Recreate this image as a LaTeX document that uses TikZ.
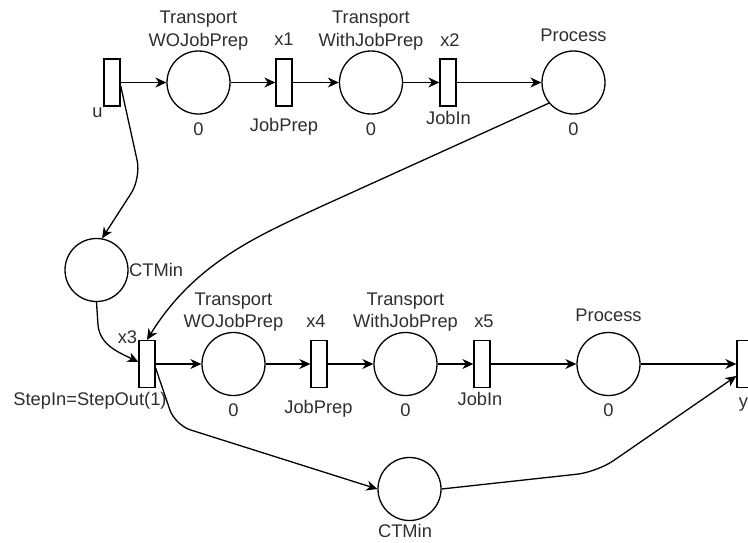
\documentclass[tikz,border=0pt]{standalone}
\usepackage{fontspec}
\setmainfont{Liberation Sans}
\usetikzlibrary{arrows.meta}
\tikzset{
  place/.style={circle, draw=black, line width=1.3pt, minimum size=63pt, inner sep=0pt},
  trans/.style={rectangle, draw=black, line width=1.3pt, minimum width=16pt, minimum height=47pt, inner sep=0pt},
  lbl/.style={anchor=base, inner sep=0pt, text=black!82, font=\fontsize{18.3}{22}\selectfont},
  arc/.style={draw=black, line width=1.3pt, -{Stealth[length=11pt,width=10pt,inset=3.5pt]}},
}
\begin{document}
\begin{tikzpicture}[x=1pt,y=-1pt]
\clip (0,0) rectangle (748,542);
% top row
\node[trans] (u) at (112,82.5) {};
\node[place] (P1) at (198.5,82.5) {};
\node[trans] (x1) at (284,82.5) {};
\node[place] (P2) at (371,82.5) {};
\node[trans] (x2) at (448,82.5) {};
\node[place] (P3) at (573.5,82.5) {};
\node[place] (C1) at (96.5,270) {};
% bottom row
\node[trans] (x3) at (147,364) {};
\node[place] (P4) at (233.5,364) {};
\node[trans] (x4) at (319,364) {};
\node[place] (P5) at (405.5,364) {};
\node[trans] (x5) at (482,364) {};
\node[place] (P6) at (608.5,364) {};
\node[trans] (y) at (745,364) {};
\node[place] (C2) at (409.5,489) {};
% labels top
\node[lbl] (lu) at (97.5,117) {u};
\node[lbl] (l1a) at (198.5,23.3) {Transport};
\node[lbl] (l1b) at (198.5,46) {WOJobPrep};
\node[lbl] (l1c) at (198.5,135) {0};
\node[lbl] (lx1) at (284,45) {x1};
\node[lbl] (lx1b) at (284,131) {JobPrep};
\node[lbl] (l2a) at (371,23.3) {Transport};
\node[lbl] (l2b) at (371,46) {WithJobPrep};
\node[lbl] (l2c) at (371,135) {0};
\node[lbl] (lx2) at (450,46) {x2};
\node[lbl] (lx2b) at (448.5,124) {JobIn};
\node[lbl] (l3a) at (573.5,41) {Process};
\node[lbl] (l3c) at (573.5,135) {0};
\node[lbl, anchor=base west] (lc1) at (129,276) {CTMin};
% labels bottom
\node[lbl] (lx3) at (127.5,343) {x3};
\node[lbl] (lx3b) at (90,405) {StepIn=StepOut(1)};
\node[lbl] (l4a) at (233.5,305) {Transport};
\node[lbl] (l4b) at (233.5,327) {WOJobPrep};
\node[lbl] (l4c) at (233.5,416) {0};
\node[lbl] (lx4) at (316,327) {x4};
\node[lbl] (lx4b) at (318.5,413) {JobPrep};
\node[lbl] (l5a) at (405.5,305) {Transport};
\node[lbl] (l5b) at (405.5,327) {WithJobPrep};
\node[lbl] (l5c) at (405.5,416) {0};
\node[lbl] (lx5) at (484,327) {x5};
\node[lbl] (lx5b) at (480,405) {JobIn};
\node[lbl] (l6a) at (608.5,321) {Process};
\node[lbl] (l6c) at (608.5,416) {0};
\node[lbl] (ly) at (743.5,407) {y};
\node[lbl] (lc2) at (405,537) {CTMin};
% connectors top
\draw[arc] (u) -- (P1);
\draw[arc] (P1) -- (x1);
\draw[arc] (x1) -- (P2);
\draw[arc] (P2) -- (x2);
\draw[arc] (x2) -- (P3);
\draw[arc, rounded corners=18pt] ([yshift=-3pt]u.east) -- (141,178) -- (C1.80);
\draw[arc] (C1.south) -- (98,325) .. controls (100,345) and (118,352) .. ([yshift=2pt]x3.west);
\draw[arc] (P3.220) -- (320,207) .. controls (260,235) and (195,262) .. (x3.north);
% connectors bottom
\draw[arc] (x3) -- (P4);
\draw[arc] (P4) -- (x4);
\draw[arc] (x4) -- (P5);
\draw[arc] (P5) -- (x5);
\draw[arc] (x5) -- (P6);
\draw[arc] (P6) -- (y);
\draw[arc, rounded corners=16pt] ([yshift=-4pt]x3.east) -- (175,425) -- (C2.west);
\draw[arc, rounded corners=20pt] (C2.east) -- (597,472) -- ([yshift=-12pt]y.west);
\end{tikzpicture}
\end{document}
